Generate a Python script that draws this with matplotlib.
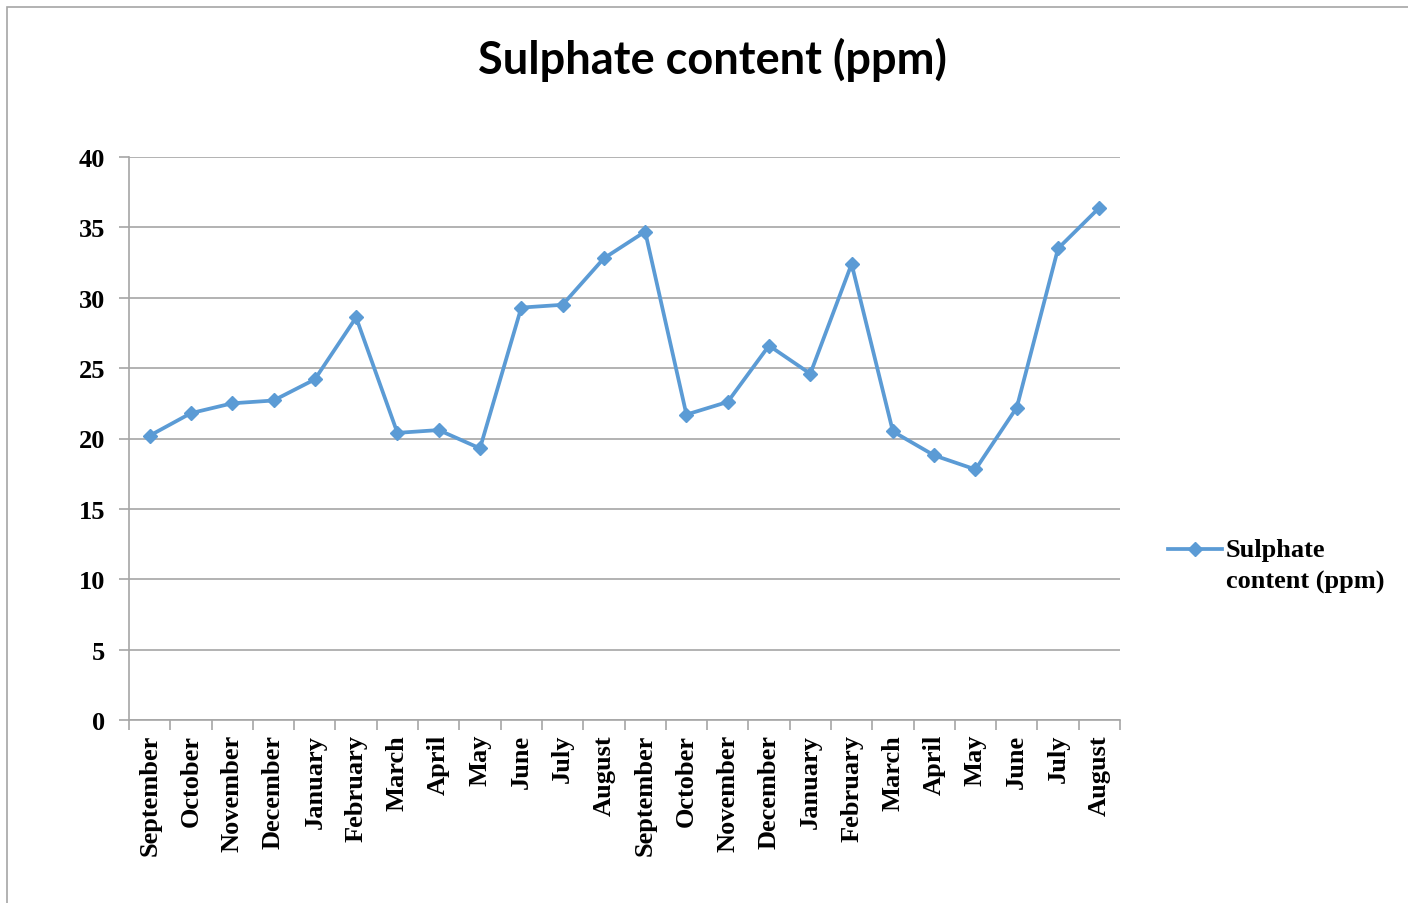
import matplotlib
matplotlib.use("Agg")
import matplotlib.pyplot as plt
from matplotlib.lines import Line2D
from matplotlib.patches import Rectangle

months = ["September", "October", "November", "December", "January", "February",
          "March", "April", "May", "June", "July", "August",
          "September", "October", "November", "December", "January", "February",
          "March", "April", "May", "June", "July", "August"]
sulphate = [20.2, 21.8, 22.5, 22.7, 24.2, 28.6, 20.4, 20.6, 19.3, 29.3, 29.5, 32.8,
            34.7, 21.7, 22.6, 26.6, 24.6, 32.4, 20.5, 18.8, 17.8, 22.2, 33.5, 36.4]
yticks = [0, 5, 10, 15, 20, 25, 30, 35, 40]

BLUE = "#5B9BD5"
GRID = "#A6A6A6"
serif = "Liberation Serif"
FS = 19

fig = plt.figure(figsize=(14.08, 9.04), dpi=100)
ax = fig.add_axes([129 / 1408, 1 - 721 / 904, (1120 - 129) / 1408, (721 - 158) / 904])

# outer chart border (runs off right and bottom edges)
fig.add_artist(Rectangle((7 / 1408, -0.01), 1.1, 1 - 8 / 904 + 0.01,
                         transform=fig.transFigure, fill=False,
                         edgecolor=GRID, linewidth=1.2))

x = list(range(len(months)))
ax.plot(x, sulphate, color=BLUE, linewidth=2.7, marker="D", markersize=7.5,
        markeredgecolor=BLUE, markerfacecolor=BLUE, zorder=3, clip_on=False)

ax.set_xlim(-0.5, len(months) - 0.5)
ax.set_ylim(0, 40)
ax.set_yticks(yticks)
ax.set_yticklabels([str(v) for v in yticks], fontfamily=serif, fontweight="bold",
                   fontsize=FS)
ax.set_xticks(x)
ax.set_xticklabels(months, rotation=90, fontfamily=serif, fontweight="bold",
                   fontsize=FS)
ax.set_xticks([i - 0.5 for i in range(len(months) + 1)], minor=True)
ax.tick_params(axis="x", which="major", length=0, pad=10)
ax.tick_params(axis="x", which="minor", length=7, color=GRID, width=1.2)
ax.tick_params(axis="y", length=7, color=GRID, width=1.2, pad=10)

ax.grid(axis="y", color=GRID, linewidth=1.2)
ax.set_axisbelow(True)
for side in ["top", "right"]:
    ax.spines[side].set_visible(False)
for side in ["left", "bottom"]:
    ax.spines[side].set_color(GRID)
    ax.spines[side].set_linewidth(1.2)

fig.text(712 / 1408, 1 - 60 / 904, "Sulphate content (ppm)", ha="center",
         va="center", fontfamily="Lato", fontweight="bold", fontsize=32.5)

# legend
ly = 1 - 550 / 904
fig.add_artist(Line2D([1168 / 1408, 1222 / 1408], [ly, ly],
                      transform=fig.transFigure, color=BLUE, linewidth=2.7))
fig.add_artist(Line2D([1195 / 1408], [ly], transform=fig.transFigure,
                      color=BLUE, marker="D", markersize=7.5, linestyle="none"))
fig.text(1226 / 1408, ly, "Sulphate", ha="left", va="center",
         fontfamily=serif, fontweight="bold", fontsize=FS)
fig.text(1226 / 1408, 1 - 582 / 904, "content (ppm)", ha="left", va="center",
         fontfamily=serif, fontweight="bold", fontsize=FS)

fig.savefig("out.png", dpi=100)
